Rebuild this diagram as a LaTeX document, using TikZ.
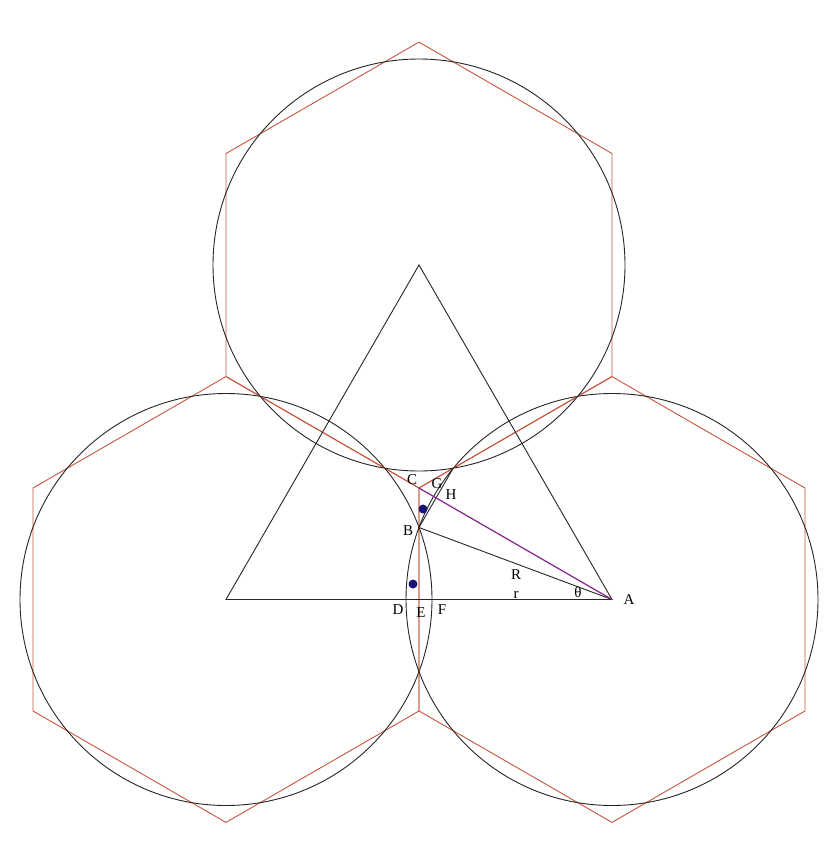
\documentclass[tikz,border=0pt]{standalone}
\usepackage{fontspec}
\setmainfont{Liberation Serif}
\definecolor{hexred}{RGB}{200,85,60}
\definecolor{chordpurple}{RGB}{130,35,140}
\definecolor{dotblue}{RGB}{25,20,120}
\tikzset{
  hexline/.style={hexred, line width=0.9pt},
  ring/.style={black!85, line width=0.9pt},
  lbl/.style={font=\fontsize{15}{18}\selectfont, inner sep=0pt},
  spot/.style={fill=dotblue, draw=none},
}
\begin{document}
\begin{tikzpicture}[x=1pt, y=-1pt]
    \useasboundingbox[fill=white] (0,0) rectangle (840,859);

    % Centres of the three circles
    \coordinate (L) at (226,599.5);
    \coordinate (A) at (612,599.5);
    \coordinate (T) at (419,265);

    % Hexagons and circles
    \foreach \c in {L,A,T} {
        \draw[hexline, shift={(\c)}] (30:222.9) -- (90:222.9) -- (150:222.9)
            -- (210:222.9) -- (270:222.9) -- (330:222.9) -- cycle;
        \draw[ring] (\c) circle (206pt);
    }

    % Triangle of centres
    \draw[ring] (L) -- (A) -- (T) -- cycle;

    % Special points
    \coordinate (C) at (419,488.05);
    \coordinate (B) at (419,527.5);
    \coordinate (G) at (453.2,468.2);
    \coordinate (H) at (436.1,497.9);
    \coordinate (D) at (406,599.5);
    \coordinate (E) at (419,599.5);
    \coordinate (F) at (432,599.5);

    \draw[ring] (B) -- (A);
    \draw[ring] (B) -- (G);
    \draw[chordpurple, line width=1.2pt] (C) -- (A);

    \fill[spot] (423,509) circle (4.5pt);
    \fill[spot] (413,584) circle (4.5pt);

    % Labels
    \node[lbl] (labA) at (629,600) {A};
    \node[lbl] (labB) at (408,531) {B};
    \node[lbl] (labC) at (412,480) {C};
    \node[lbl] (labG) at (437,484) {G};
    \node[lbl] (labH) at (451,495) {H};
    \node[lbl] (labD) at (398,610) {D};
    \node[lbl] (labE) at (421,613) {E};
    \node[lbl] (labF) at (442,610) {F};
    \node[lbl] (labR) at (516,575) {R};
    \node[lbl] (labr) at (516,595) {r};
    \node[lbl] (labt) at (578,592) {θ};
\end{tikzpicture}
\end{document}
